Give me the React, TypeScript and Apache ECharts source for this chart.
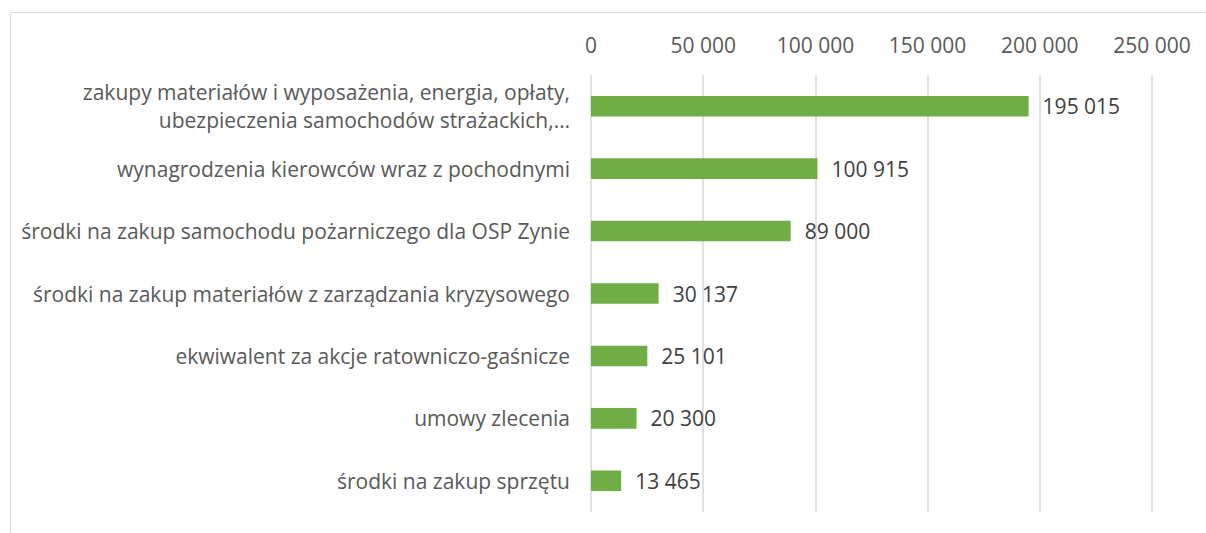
import React, { useEffect, useRef } from "react";
import * as echarts from "echarts";

const categories = [
  "zakupy materiałów i wyposażenia, energia, opłaty,\nubezpieczenia samochodów strażackich,…",
  "wynagrodzenia kierowców wraz z pochodnymi",
  "środki na zakup samochodu pożarniczego dla OSP Zynie",
  "środki na zakup materiałów z zarządzania kryzysowego",
  "ekwiwalent za akcje ratowniczo-gaśnicze",
  "umowy zlecenia",
  "środki na zakup sprzętu",
];
const values = [195015, 100915, 89000, 30137, 25101, 20300, 13465];

const fmt = (v: number) => String(Math.round(v)).replace(/\B(?=(\d{3})+(?!\d))/g, " ");

export default function App() {
  const ref = useRef<HTMLDivElement>(null);
  useEffect(() => {
    document.body.style.margin = "0";
    const chart = echarts.init(ref.current!, null, { renderer: "svg" });
    chart.setOption({
      animation: false,
      backgroundColor: "#ffffff",
      textStyle: { fontFamily: "Open Sans" },
      graphic: [
        {
          type: "rect",
          shape: { x: 10.5, y: 12.5, width: 1300, height: 600 },
          style: { fill: "none", stroke: "#d9d9d9", lineWidth: 1 },
          silent: true,
        },
      ],
      grid: { left: 591, right: 54, top: 75, bottom: 21, containLabel: false },
      xAxis: {
        type: "value",
        position: "top",
        min: 0,
        max: 250000,
        interval: 50000,
        axisLine: { show: false },
        axisTick: { show: false },
        axisLabel: {
          formatter: (v: number) => fmt(v),
          color: "#595959",
          fontSize: 21,
          margin: 20,
          fontFamily: "Open Sans",
        },
        splitLine: { show: true, lineStyle: { color: "#d9d9d9", width: 1.5 } },
      },
      yAxis: {
        type: "category",
        inverse: true,
        data: categories,
        axisLine: { show: false },
        axisTick: { show: false },
        axisLabel: {
          color: "#595959",
          fontSize: 21,
          margin: 21,
          lineHeight: 28,
          align: "right",
          fontFamily: "Open Sans",
        },
      },
      series: [
        {
          type: "bar",
          data: values,
          barWidth: "33%",
          itemStyle: { color: "#70ad47" },
          label: {
            show: true,
            position: "right",
            distance: 14,
            color: "#404040",
            fontSize: 21,
            fontFamily: "Open Sans",
            formatter: (p: any) => fmt(p.value),
          },
        },
      ],
    });
    return () => chart.dispose();
  }, []);
  return <div ref={ref} style={{ width: 1206, height: 533 }} />;
}
